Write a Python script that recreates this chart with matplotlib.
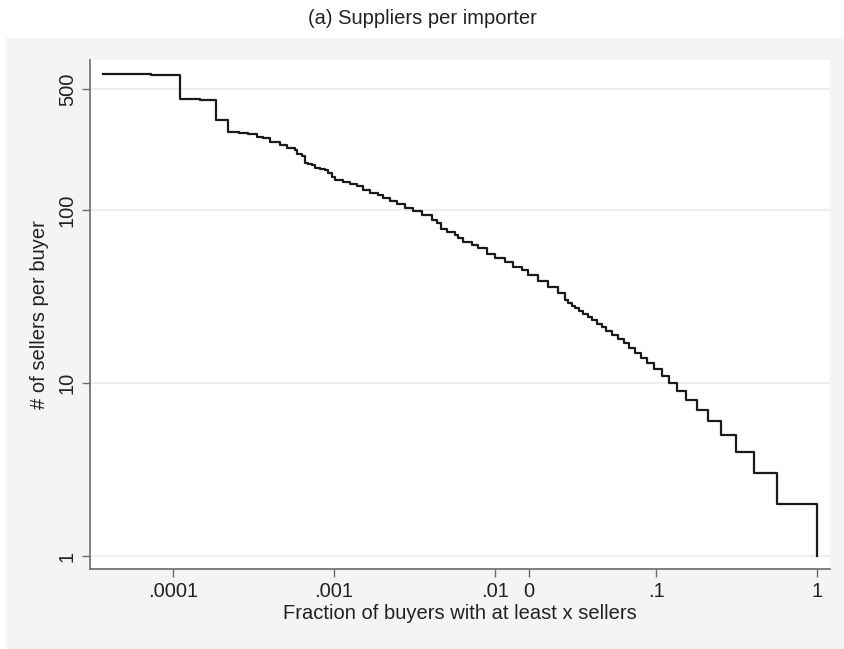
import matplotlib
matplotlib.use("Agg")
import matplotlib.pyplot as plt
from matplotlib.patches import Rectangle

# Fraction of buyers with at least x sellers
fraction = [3.67e-5, 7.35e-5, 1.105e-4, 1.47e-4, 1.836e-4, 2.206e-4, 2.57e-4,
            2.936e-4, 3.30e-4, 3.638e-4, 4.03e-4, 4.62e-4, 5.13e-4,
            5.33e-4, 5.725e-4, 5.916e-4, 6.30e-4, 6.61e-4, 6.925e-4, 7.27e-4,
            7.62e-4, 8.18e-4, 8.79e-4, 9.22e-4, 9.67e-4, 1.0144e-3, 1.143e-3,
            1.257e-3, 1.384e-3, 1.486e-3, 1.521e-3, 1.673e-3, 1.884e-3,
            2.024e-3, 2.228e-3, 2.451e-3, 2.761e-3, 3.108e-3, 3.505e-3,
            4.045e-3, 4.344e-3, 4.619e-3, 5.01e-3, 5.643e-3, 5.916e-3,
            6.354e-3, 7.165e-3, 7.873e-3, 8.88e-3, 1.0e-2, 1.153e-2, 1.299e-2,
            1.464e-2, 1.609e-2, 1.857e-2, 2.144e-2, 2.471e-2,
            0.0272, 0.0284, 0.0300, 0.0315, 0.0334, 0.0354, 0.0377, 0.0402,
            0.0432, 0.0462, 0.0491, 0.0535, 0.0583, 0.0633, 0.0683, 0.0741,
            0.0810, 0.0883, 0.0968, 0.1085, 0.121, 0.1345, 0.154, 0.179,
            0.211, 0.252, 0.313, 0.404, 0.567, 1.0]
# Number of sellers per buyer
sellers = [614, 605, 440, 432, 331, 282, 278, 274, 265, 261, 247, 237, 229,
           227, 222, 211, 205, 186, 185, 182, 174, 172, 170, 163, 156, 149,
           146, 141, 138, 137, 130, 126, 122, 118, 113, 108, 102, 99, 94,
           88, 84, 78, 75, 72, 69, 65, 63, 60, 56, 53, 50, 47, 45, 42, 39,
           36, 33,
           30, 29, 28, 27, 26, 25, 24, 23, 22, 21, 20, 19, 18, 17, 16, 15,
           14, 13, 12, 11, 10, 9, 8, 7, 6, 5, 4, 3, 2, 1]

x_ticks = [0.0001, 0.001, 0.01, 0.0163, 0.1, 1]
x_tick_labels = [".0001", ".001", ".01", "0", ".1", "1"]
y_ticks = [1, 10, 100, 500]
y_tick_labels = ["1", "10", "100", "500"]

plt.rcParams['font.family'] = ['Liberation Sans', 'DejaVu Sans']

W, H = 845, 649
fig = plt.figure(figsize=(W / 100, H / 100), dpi=100)
fig.patch.set_facecolor('white')
bg = Rectangle((6 / W, 0), 1 - 6 / W, (H - 38) / H,
               transform=fig.transFigure, facecolor='#f4f4f4',
               edgecolor='none', zorder=-10)
fig.patches.append(bg)

ax = fig.add_axes([90 / W, (H - 569) / H, (830 - 90) / W, (569 - 60) / H])
ax.set_zorder(1)
ax.set_facecolor('white')
ax.set_xscale('log')
ax.set_yscale('log')

ax.plot(fraction, sellers, drawstyle='steps-post', color='#1a1a1a',
        linewidth=1.6, zorder=3)

ax.set_xlim(3.05e-5, 1.204)
ax.set_ylim(0.841, 736)

ax.set_xticks(x_ticks)
ax.set_xticklabels(x_tick_labels)
ax.set_xticks([], minor=True)
ax.set_yticks(y_ticks)
ax.set_yticklabels(y_tick_labels, rotation=90, va='center')
ax.set_yticks([], minor=True)

ax.grid(axis='y', color='#eaeaea', linewidth=1.1, zorder=1)
ax.grid(axis='x', visible=False)
ax.set_axisbelow(True)

for s in ['top', 'right']:
    ax.spines[s].set_visible(False)
for s in ['left', 'bottom']:
    ax.spines[s].set_color('#6a6a6a')
    ax.spines[s].set_linewidth(1.2)

ax.tick_params(axis='both', which='major', direction='out', length=5.5,
               width=1.0, color='#6a6a6a', labelsize=14.5, labelcolor='#222222',
               pad=4)

ax.set_xlabel("Fraction of buyers with at least x sellers", fontsize=14.5,
              color='#222222', labelpad=2)
ax.set_ylabel("# of sellers per buyer", fontsize=14.5, color='#222222',
              labelpad=6)

fig.text(0.5, 1 - 18 / H, "(a) Suppliers per importer", ha='center',
         va='center', fontsize=14.5, color='#222222')

fig.savefig("out.png", dpi=100)
